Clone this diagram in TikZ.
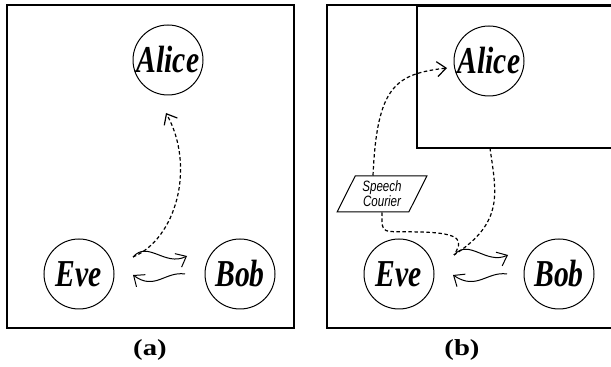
\documentclass[tikz,border=0pt]{standalone}
\usepackage{fontspec}
\setmainfont{Liberation Serif}
\setsansfont{Liberation Sans}
\newfontfamily\namefont[FakeStretch=0.78]{Liberation Serif}
\newfontfamily\courierfont[FakeStretch=0.77]{Liberation Sans}
\newfontfamily\subfont[FakeStretch=1.25]{Liberation Serif}
\usetikzlibrary{arrows.meta,shapes.geometric}
\tikzset{
  frame/.style={line width=1.3pt},
  party/.style={circle,draw,line width=1pt,minimum size=70pt,inner sep=0pt,
    font=\namefont\fontsize{38}{38}\selectfont\bfseries\itshape},
  sub/.style={font=\subfont\fontsize{23}{23}\selectfont\bfseries},
  msg/.style={line width=1pt,-{Straight Barb[length=9pt,width=15pt]}},
  leak/.style={line width=1.2pt,dash pattern=on 3.5pt off 2.5pt},
  leakarrow/.style={leak,-{Straight Barb[length=9pt,width=15pt]}},
  courier/.style={trapezium,draw,line width=1pt,trapezium left angle=63,
    trapezium right angle=117,trapezium stretches=true,minimum width=90pt,
    minimum height=36pt,inner sep=0pt,align=center,
    font=\courierfont\fontsize{15}{12.5}\selectfont\itshape}
}
\begin{document}
\begin{tikzpicture}[x=1pt,y=1pt]
\useasboundingbox (0,0) rectangle (611,367);
% panel (a)
\draw[frame] (7,39) rectangle (294,362);
\node[party] (alicea) at (168,307) {Alice};
\node[party] (evea) at (79,93) {Eve};
\node[party] (boba) at (240,93) {Bob};
\coordinate (wa1) at (133,110);
\coordinate (wa2) at (187,111);
\coordinate (wa3) at (185,93);
\coordinate (wa4) at (133,92);
\coordinate (ta) at (166,254);
\draw[msg] (wa1) .. controls (148,127) and (165,100) .. (wa2);
\draw[msg] (wa3) .. controls (165,96) and (155,76) .. (wa4);
\draw[leakarrow] (wa1) .. controls (176,128) and (196,200) .. (ta);
\node[sub] (la) at (150,17) {(a)};
% panel (b)
\draw[frame] (327,39) rectangle (613,362);
\draw[frame] (417,219) rectangle (613,361);
\coordinate (inner) at (490,219);
\node[party] (aliceb) at (489,306) {Alice};
\node[party] (eveb) at (399,93) {Eve};
\node[party] (bobb) at (559,93) {Bob};
\node[courier] (sc) at (382,173) {Speech\\Courier};
\coordinate (wb1) at (454,112);
\coordinate (wb2) at (508,112);
\coordinate (wb3) at (507,93);
\coordinate (wb4) at (453,92);
\coordinate (tb) at (447,299);
\draw[msg] (wb1) .. controls (469,129) and (486,102) .. (wb2);
\draw[msg] (wb3) .. controls (487,96) and (477,76) .. (wb4);
\draw[leakarrow] ([xshift=-9pt]sc.north) .. controls +(4,89) and (395,293) .. (tb);
\draw[leak] (sc.south) .. controls +(0,-23) and (380,136) .. (420,135) .. controls (465,134) and (462,125) .. (wb1);
\draw[leak] (inner) .. controls (496,175) and (505,145) .. (wb1);
\node[sub] (lb) at (462,17) {(b)};
\end{tikzpicture}
\end{document}
